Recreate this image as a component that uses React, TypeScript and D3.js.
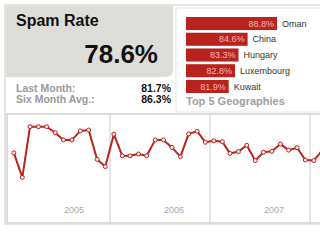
import React from "react";
import * as d3 from "d3";

const countries = ["Oman", "China", "Hungary", "Luxembourg", "Kuwait"];
const countryRates = [88.8, 84.6, 83.3, 82.8, 81.9];
const years = ["2005", "2006", "2007", "2008"];
const monthlyRates = [
  83.4, 75.2, 92.1, 92.1, 92.1, 90.1, 87.7, 87.7, 90.7, 91.0, 81.2, 78.8,
  89.6, 82.4, 82.4, 83.0, 82.4, 87.7, 87.7, 85.2, 82.1, 89.7, 90.6, 86.9,
  87.4, 87.1, 83.2, 83.8, 85.9, 80.8, 83.6, 83.9, 86.3, 84.3, 85.1, 81.0,
  80.8, 84.3,
];
const title = "Spam Rate";
const currentRate = "78.6%";
const statLabels = ["Last Month:", "Six Month Avg.:"];
const statValues = ["81.7%", "86.3%"];
const geoTitle = "Top 5 Geographies";

const FONT = "Arial, 'Liberation Sans', Helvetica, sans-serif";
const RED = "#b8231d";
const BORDER = "#dcdcda";

export default function App() {
  const W = 320, H = 240;
  // bar chart
  const barX = d3.scaleLinear().domain([75.8, 88.8]).range([0, 91]);
  const barY = d3.scaleBand().domain(countries).range([17, 93]).paddingInner(0.17);

  // line chart
  const dates = monthlyRates.map((_, i) => new Date(2005, i, 15));
  const x = d3.scaleTime()
    .domain([new Date(2005, 0, 1), new Date(2008, 0, 1)])
    .range([10, 310]);
  const y = d3.scaleLinear().domain([60, 100]).range([223, 103]);
  const line = d3.line<number>()
    .x((_, i) => x(dates[i]))
    .y((d) => y(d))
    .curve(d3.curveLinear);

  const yearStarts = years.map((yy) => new Date(+yy, 0, 1));

  return (
    <svg width={W} height={H} style={{ position: "absolute", left: 0, top: 0, background: "#fff" }} fontFamily={FONT}>
      <defs>
        <clipPath id="chartClip">
          <rect x={8} y={114} width={320} height={108} />
        </clipPath>
      </defs>
      {/* outer widget frame */}
      <rect x={5} y={5} width={330} height={219} fill="#fff" stroke={BORDER} strokeWidth={1.5} />
      {/* left gray box */}
      <path
        d="M6,6 H173 V70 Q173,77 166,77 H6 Z"
        fill="#dcdcd8"
      />
      <text x={16} y={26} fontSize={16} fontWeight="bold" fill="#111">{title}</text>
      <text x={158} y={63} fontSize={26} fontWeight="bold" fill="#111" textAnchor="end">{currentRate}</text>
      {statLabels.map((l, i) => (
        <g key={l}>
          <text x={16} y={91.5 + i * 11} fontSize={10.5} fontWeight="bold" fill="#9a9a9a">{l}</text>
          <text x={171} y={91.5 + i * 11} fontSize={10.5} fontWeight="bold" fill="#111" textAnchor="end">{statValues[i]}</text>
        </g>
      ))}
      {/* right panel */}
      <rect x={176} y={8} width={160} height={104} fill="#fff" stroke="#e4e4e4" strokeWidth={1} />
      {countries.map((c, i) => {
        const v = countryRates[i];
        const by = barY(c)!;
        const bw = barX(v);
        return (
          <g key={c}>
            <rect x={186} y={by} width={bw} height={barY.bandwidth()} fill={RED} />
            <text x={186 + bw - 3} y={by + barY.bandwidth() / 2 + 3.2} fontSize={9} fill="#f3b9b6" textAnchor="end">
              {v.toFixed(1)}%
            </text>
            <text x={186 + bw + 5} y={by + barY.bandwidth() / 2 + 3.2} fontSize={9} fill="#333">{c}</text>
          </g>
        );
      })}
      <text x={186} y={105} fontSize={11} fontWeight="bold" fill="#a0a0a0">{geoTitle}</text>
      {/* chart panel */}
      <rect x={7} y={114} width={330} height={109} fill="#fff" stroke={BORDER} strokeWidth={2} />
      {yearStarts.slice(1).map((d, i) => (
        <line key={i} x1={x(d)} x2={x(d)} y1={114} y2={223} stroke={BORDER} strokeWidth={1.5} />
      ))}
      {years.slice(0, 3).map((yy, i) => (
        <text key={yy} x={x(yearStarts[i]) + 64} y={213} fontSize={9} fill="#aaa" textAnchor="middle">{yy}</text>
      ))}
      <g clipPath="url(#chartClip)">
        <path d={line(monthlyRates) || ""} fill="none" stroke={RED} strokeWidth={2} strokeLinejoin="round" />
        {monthlyRates.map((v, i) => (
          <circle key={i} cx={x(dates[i])} cy={y(v)} r={2} fill="#fbeaea" stroke={RED} strokeWidth={1} />
        ))}
      </g>
    </svg>
  );
}
